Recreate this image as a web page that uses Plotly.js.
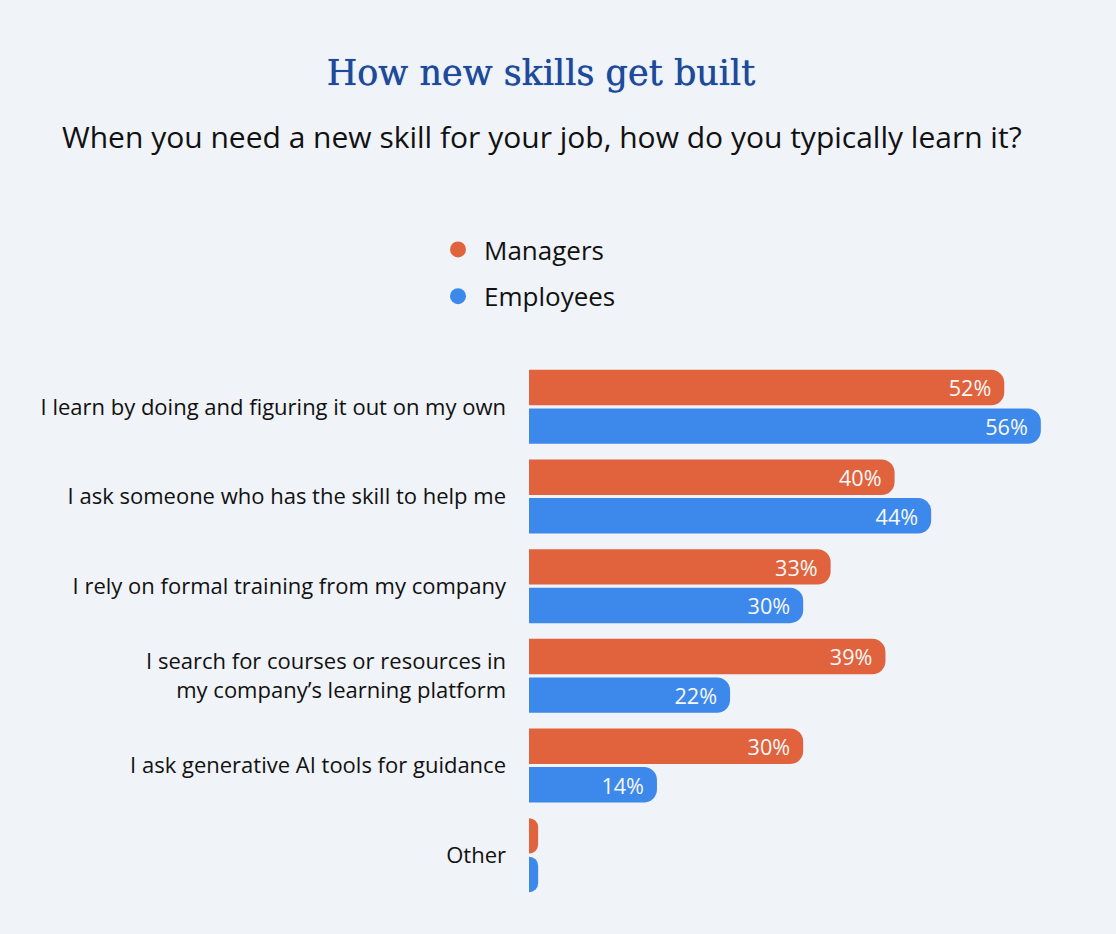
<!DOCTYPE html>
<html>
<head>
<meta charset="utf-8">
<script src="https://cdn.plot.ly/plotly-3.0.1.min.js"></script>
<style>html,body{margin:0;padding:0;background:#F0F3F8;}</style>
</head>
<body>
<div id="chart" style="width:1116px;height:934px;"></div>
<script>
const categories = [
  "I learn by doing and figuring it out on my own",
  "I ask someone who has the skill to help me",
  "I rely on formal training from my company",
  "I search for courses or resources in<br>my company’s learning platform",
  "I ask generative AI tools for guidance",
  "Other"
];
const managers = [52, 40, 33, 39, 30, 1];
const employees = [56, 44, 30, 22, 14, 1];
const managerLabels = ["52%", "40%", "33%", "39%", "30%", ""];
const employeeLabels = ["56%", "44%", "30%", "22%", "14%", ""];

const ORANGE = "#E0633D";
const BLUE = "#3C89EB";
const sans = "'Open Sans', Lato, sans-serif";

// plot area in pixels
const L = 529, R = 26, T = 362, B = 34, W = 1116, H = 934;
const PW = W - L - R, PH = H - T - B;

const barCommon = {
  type: "bar",
  orientation: "h",
  y: categories,
  textposition: "inside",
  insidetextanchor: "end",
  textfont: {family: sans, size: 22, color: "#F8F8F8"},
  cliponaxis: false,
  showlegend: false,
  hoverinfo: "skip"
};

const traces = [
  Object.assign({}, barCommon, {name: "Managers", x: managers, text: managerLabels, marker: {color: ORANGE, cornerradius: 13}}),
  Object.assign({}, barCommon, {name: "Employees", x: employees, text: employeeLabels, marker: {color: BLUE, cornerradius: 13}}),
  {type: "scatter", mode: "markers", name: "Managers", legendgroup: "m", x: [null], y: [null], marker: {color: ORANGE, size: 28, symbol: "circle"}, showlegend: true},
  {type: "scatter", mode: "markers", name: "Employees", legendgroup: "e", x: [null], y: [null], marker: {color: BLUE, size: 28, symbol: "circle"}, showlegend: true}
];

const layout = {
  width: W,
  height: H,
  paper_bgcolor: "#F0F3F8",
  plot_bgcolor: "#F0F3F8",
  margin: {l: L, r: R, t: T, b: B, autoexpand: false},
  barmode: "group",
  bargap: 0.14,
  bargroupgap: 0.08,
  showlegend: true,
  title: {
    text: "How new skills get built",
    font: {family: "'DejaVu Serif', serif", size: 35, color: "#1F4A9B", shadow: "0px 0px 0.7px #1F4A9B"},
    x: 541 / W, xanchor: "center", xref: "container",
    y: 1 - 73 / H, yanchor: "middle", yref: "container"
  },
  annotations: [{
    text: "When you need a new skill for your job, how do you typically learn it?",
    xref: "paper", yref: "paper",
    x: (542 - L) / PW, y: (H - B - 136) / PH,
    xanchor: "center", yanchor: "middle",
    showarrow: false,
    font: {family: sans, size: 30, color: "#111111"}
  }],
  legend: {
    xref: "container", yref: "container",
    x: 432 / W, y: 1 - 226 / H,
    xanchor: "left", yanchor: "top",
    bgcolor: "rgba(0,0,0,0)",
    font: {family: sans, size: 26, color: "#111111"},
    itemsizing: "trace",
    itemwidth: 42,
    tracegroupgap: 10
  },
  xaxis: {
    range: [0, 61.38],
    showgrid: false, zeroline: false, showticklabels: false, showline: false, ticks: "",
    fixedrange: true
  },
  yaxis: {
    autorange: "reversed",
    showgrid: false, zeroline: false, showline: false, ticks: "",
    ticklabelstandoff: 22,
    automargin: false,
    tickfont: {family: sans, size: 22, color: "#111111"},
    fixedrange: true
  },
  hovermode: false
};

Plotly.newPlot("chart", traces, layout, {displayModeBar: false, staticPlot: true});
</script>
</body>
</html>
